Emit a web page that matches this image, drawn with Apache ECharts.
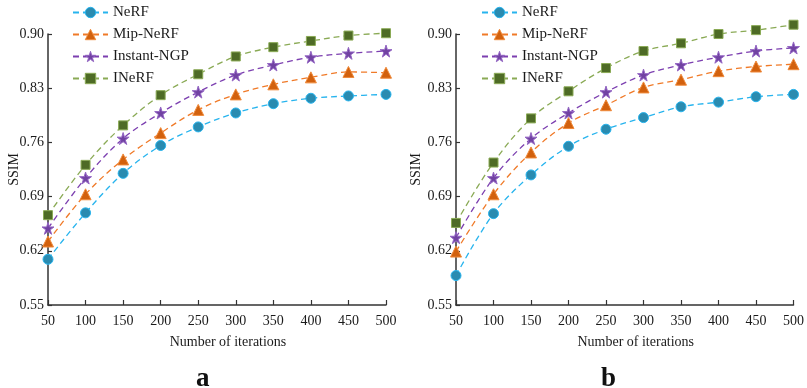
<!DOCTYPE html>
<html>
<head>
<meta charset="utf-8">
<script src="https://cdn.jsdelivr.net/npm/echarts@6/dist/echarts.min.js"></script>
<style>html,body{margin:0;padding:0;background:#fff;}#c{width:807px;height:388px;}</style>
</head>
<body>
<div id="c"></div>
<script>
const iterations = [50, 100, 150, 200, 250, 300, 350, 400, 450, 500];
const seriesNames = ['NeRF', 'Mip-NeRF', 'Instant-NGP', 'INeRF'];
const yTicks = [0.55, 0.62, 0.69, 0.76, 0.83, 0.90];

// Panel a
const a_NeRF       = [0.609, 0.669, 0.720, 0.756, 0.780, 0.798, 0.810, 0.817, 0.820, 0.822];
const a_MipNeRF    = [0.632, 0.693, 0.738, 0.772, 0.802, 0.822, 0.835, 0.844, 0.851, 0.850];
const a_InstantNGP = [0.649, 0.714, 0.765, 0.798, 0.825, 0.847, 0.860, 0.870, 0.875, 0.878];
const a_INeRF      = [0.666, 0.731, 0.782, 0.821, 0.848, 0.871, 0.883, 0.891, 0.898, 0.901];

// Panel b
const b_NeRF       = [0.588, 0.668, 0.718, 0.755, 0.777, 0.792, 0.806, 0.812, 0.819, 0.822];
const b_MipNeRF    = [0.619, 0.693, 0.747, 0.785, 0.808, 0.831, 0.841, 0.852, 0.858, 0.861];
const b_InstantNGP = [0.637, 0.714, 0.765, 0.798, 0.825, 0.847, 0.860, 0.870, 0.878, 0.882];
const b_INeRF      = [0.656, 0.734, 0.791, 0.826, 0.856, 0.878, 0.888, 0.900, 0.905, 0.912];

const panelLabels = ['a', 'b'];

const STAR = 'path://M50,0 L61,35 L98,35 L68,57 L79,91 L50,70 L21,91 L32,57 L2,35 L39,35 Z';
const styles = [
  {line: '#27b4ee', fill: '#2a8bb0', border: '#27b4ee', symbol: 'circle', size: 10},
  {line: '#f07a28', fill: '#d2610e', border: '#f08a3a', symbol: 'triangle', size: 11},
  {line: '#7c3fb0', fill: '#7142a2', border: '#9466c4', symbol: STAR, size: 12},
  {line: '#8aaa55', fill: '#4e6b26', border: '#8aaa55', symbol: 'rect', size: 9}
];

const FONT = 'Liberation Serif';
const TXT = '#1a1a1a';

const grids = [
  {left: 48, width: 338, top: 34, height: 271},
  {left: 456, width: 338, top: 34, height: 271}
];

function mkX(i) {
  return {
    type: 'value', gridIndex: i, min: 50, max: 500, interval: 50,
    name: 'Number of iterations', nameLocation: 'middle', nameGap: 30, nameMoveOverlap: false,
    nameTextStyle: {fontFamily: FONT, fontSize: 14, color: TXT, padding: [0, 0, 0, 22]},
    axisLine: {show: true, onZero: false, lineStyle: {color: '#333', width: 1.5}},
    axisTick: {show: true, inside: true, length: 5, lineStyle: {color: '#333', width: 1.2}},
    axisLabel: {fontFamily: FONT, fontSize: 14, color: TXT, margin: 9},
    splitLine: {show: false}
  };
}
function mkY(i, gap) {
  return {
    type: 'value', gridIndex: i, min: 0.55, max: 0.90, interval: 0.07,
    name: 'SSIM', nameLocation: 'middle', nameGap: gap, nameMoveOverlap: false,
    nameTextStyle: {fontFamily: FONT, fontSize: 14, color: TXT},
    axisLine: {show: true, onZero: false, lineStyle: {color: '#333', width: 1.5}},
    axisTick: {show: true, inside: true, length: 4, lineStyle: {color: '#333', width: 1.2}},
    axisLabel: {fontFamily: FONT, fontSize: 14, color: TXT, margin: 4,
      formatter: v => v.toFixed(2)},
    splitLine: {show: false}
  };
}

const panelData = [
  [a_NeRF, a_MipNeRF, a_InstantNGP, a_INeRF],
  [b_NeRF, b_MipNeRF, b_InstantNGP, b_INeRF]
];

const series = [];
panelData.forEach((arr, p) => {
  arr.forEach((vals, k) => {
    const s = styles[k];
    series.push({
      name: seriesNames[k], type: 'line', xAxisIndex: p, yAxisIndex: p,
      data: iterations.map((x, j) => [x, vals[j]]),
      smooth: 0.35, clip: false,
      symbol: s.symbol, symbolSize: s.size,
      lineStyle: {color: s.line, width: 1.3, type: [6, 4]},
      itemStyle: {color: s.fill, borderColor: s.border, borderWidth: 1},
      emphasis: {disabled: true}, animation: false, z: 2 + k
    });
  });
});

function mkLegend(left) {
  return {
    orient: 'vertical', left: left, top: 0, padding: [5, 0, 5, 0],
    itemWidth: 35, itemHeight: 13, itemGap: 7,
    data: seriesNames.map((n, k) => ({name: n, itemStyle: {color: styles[k].fill, borderColor: styles[k].border, borderWidth: 1}})),
    textStyle: {fontFamily: FONT, fontSize: 15, color: TXT, padding: [0,0,0,0]},
    selectedMode: false
  };
}

const chart = echarts.init(document.getElementById('c'));
chart.setOption({
  animation: false,
  backgroundColor: '#fff',
  grid: grids,
  xAxis: [mkX(0), mkX(1)],
  yAxis: [mkY(0, 27), mkY(1, 33)],
  legend: [mkLegend(72), mkLegend(481)],
  series: series,
  graphic: [
    {type: 'text', left: 196, top: 366, style: {text: panelLabels[0], font: 'bold 27px "Liberation Serif"', fill: '#111'}},
    {type: 'text', left: 601, top: 366, style: {text: panelLabels[1], font: 'bold 27px "Liberation Serif"', fill: '#111'}}
  ]
});
</script>
</body>
</html>
